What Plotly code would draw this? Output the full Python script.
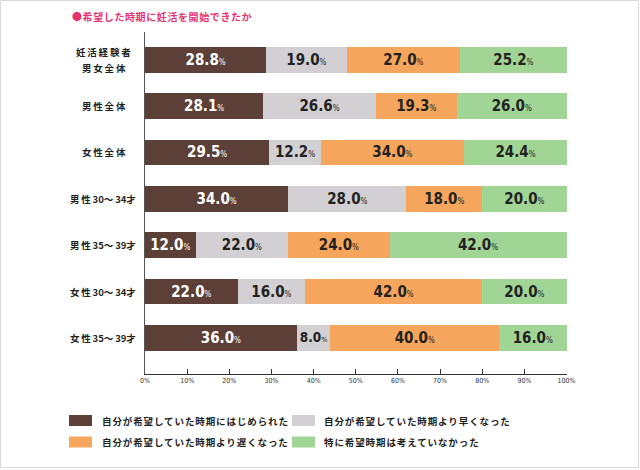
import re
import plotly.graph_objects as go

categories = ["妊活経験者<br>男女全体", "男性全体", "女性全体", "男性30～34才",
              "男性35～39才", "女性30～34才", "女性35～39才"]
series_names = ["自分が希望していた時期にはじめられた", "自分が希望していた時期より早くなった",
                "自分が希望していた時期より遅くなった", "特に希望時期は考えていなかった"]
s_started = [28.8, 28.1, 29.5, 34.0, 12.0, 22.0, 36.0]
s_earlier = [19.0, 26.6, 12.2, 28.0, 22.0, 16.0, 8.0]
s_later = [27.0, 19.3, 34.0, 18.0, 24.0, 42.0, 40.0]
s_none = [25.2, 26.0, 24.4, 20.0, 42.0, 20.0, 16.0]
x_ticks = [0, 10, 20, 30, 40, 50, 60, 70, 80, 90, 100]
x_ticktext = [f"{t}%" for t in x_ticks]
title_text = "●希望した時期に妊活を開始できたか"

colors = ["#5c4037", "#d2d0d3", "#f5a65c", "#a0d596"]
text_colors = ["#ffffff", "#222222", "#222222", "#222222"]
series = [s_started, s_earlier, s_later, s_none]

W, H = 640, 470
L, R, T, B = 145, 567, 32, 374
CJK = "Noto Sans CJK JP"
COND = "DejaVu Sans Condensed"


def px2x(px):
    return (px - L) / (R - L)


def px2y(py):
    return (B - py) / (B - T)


def spaced(txt, ls):
    # letter-spacing on CJK runs only; digits keep natural spacing
    runs = re.findall(r"[0-9]+|[^0-9]+", txt)
    out = []
    for r in runs:
        if r.isdigit():
            out.append(r)
        else:
            out.append(f"<span style='letter-spacing:{ls}px'>{r}</span>")
    return "".join(out)


fig = go.Figure()
for name, vals, c, tc in zip(series_names, series, colors, text_colors):
    fig.add_trace(go.Bar(
        x=vals, y=categories, orientation="h", name=name,
        marker=dict(color=c, line=dict(width=0)),
        text=[f"{v:.1f}<span style='font-size:8px;font-weight:normal'>%</span>" for v in vals],
        texttemplate="%{text}",
        textposition="inside", insidetextanchor="middle", textangle=0,
        textfont=dict(family=COND, size=15, color=tc, weight="bold"),
        hoverinfo="skip", cliponaxis=False,
    ))

annotations = []
for cat in categories:
    parts = cat.split("<br>")
    n = len(parts)
    for i, part in enumerate(parts):
        annotations.append(dict(
            x=px2x(104), xref="paper", y=cat, yref="y", text=spaced(part, 1.8),
            yshift=(n - 1) * 8 - i * 16,
            showarrow=False, xanchor="center", yanchor="middle", align="center",
            font=dict(family=CJK, size=9.5, color="#222", weight="bold")))

annotations.append(dict(
    x=px2x(70), xref="paper", y=px2y(16), yref="paper", text=spaced(title_text, 0.6),
    showarrow=False, xanchor="left", yanchor="middle",
    font=dict(family=CJK, size=10, color="#e6336f", weight="bold")))

shapes = []
leg_pos = [(69, 420.5, 100), (292, 420.5, 322), (69, 442, 100), (292, 442, 322)]
for (sx, sy, tx), name, c in zip(leg_pos, series_names, colors):
    shapes.append(dict(type="rect", xref="paper", yref="paper",
                       x0=px2x(sx), x1=px2x(sx + 23), y0=px2y(sy - 5.5), y1=px2y(sy + 5.5),
                       fillcolor=c, line=dict(width=0)))
    annotations.append(dict(
        x=px2x(tx), xref="paper", y=px2y(sy), yref="paper", text=spaced(name, 0.9),
        showarrow=False, xanchor="left", yanchor="middle",
        font=dict(family=CJK, size=9.5, color="#222", weight="bold")))

shapes.append(dict(type="rect", xref="paper", yref="paper",
                   x0=px2x(0.5), x1=px2x(638.5), y0=px2y(0.5), y1=px2y(467.5),
                   fillcolor="rgba(0,0,0,0)", line=dict(color="#d9d9d9", width=1)))

fig.update_layout(
    width=W, height=H,
    margin=dict(l=L, r=W - R, t=T, b=H - B, pad=0),
    paper_bgcolor="white", plot_bgcolor="white",
    barmode="stack", bargap=0.44,
    showlegend=False,
    annotations=annotations, shapes=shapes,
    xaxis=dict(range=[0, 100.1], tickvals=x_ticks, ticktext=x_ticktext,
               ticks="inside", ticklen=5, tickcolor="#333", tickwidth=1,
               showline=True, linecolor="#333", linewidth=1,
               showgrid=False, zeroline=False,
               tickfont=dict(family=COND, size=7, color="#333")),
    yaxis=dict(type="category", categoryorder="array", categoryarray=categories,
               range=[6.78, -0.6], showticklabels=False, ticks="",
               showline=True, linecolor="#555", linewidth=1,
               showgrid=False, zeroline=False),
)

fig.write_html("out.html", config={"displayModeBar": False},
               post_script="document.body.style.margin='0';")
